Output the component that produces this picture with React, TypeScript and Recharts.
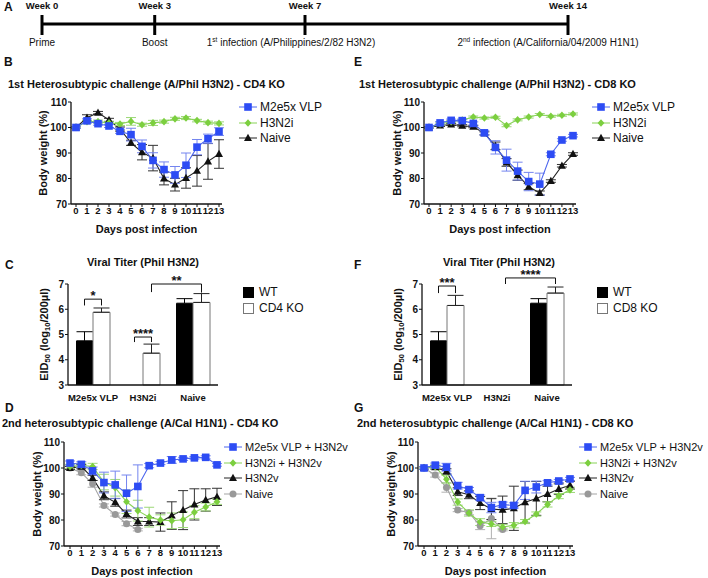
import React from 'react';
import {
  LineChart, Line, BarChart, Bar, ScatterChart, Scatter,
  XAxis, YAxis, ErrorBar, LabelList,
} from 'recharts';

const FONT = '"Liberation Sans", Arial, Helvetica, sans-serif';

// ---- panel A: timeline ----
const timelineWeeks = [0, 3, 7, 14];
const timelineEvents = ['Prime', 'Boost', '1st infection (A/Philippines/2/82 H3N2)', '2nd infection (A/California/04/2009 H1N1)'];

// ---- body weight panels ----
const days = [0, 1, 2, 3, 4, 5, 6, 7, 8, 9, 10, 11, 12, 13];
const weightTicks = [70, 80, 90, 100, 110];

// B: 1st challenge, CD4 KO
const bVlp = [100, 102.6, 101.5, 100.6, 98.5, 97.2, 92.6, 87.1, 83.5, 81.4, 85.2, 92.3, 95.6, 98.4];
const bVlpErr = [0.4, 0.8, 0.6, 0.6, 0.8, 2.5, 2.5, 3, 3, 3.3, 4.8, 3, 1.8, 1.5];
const bH3n2i = [100, 102.3, 102.3, 101.8, 101.4, 102.4, 101.1, 101.8, 102.3, 103.4, 103.7, 102.7, 101.9, 101.6];
const bH3n2iErr = [0.3, 0.5, 0.6, 0.5, 0.6, 1.5, 0.6, 1, 0.6, 0.6, 0.6, 0.5, 0.6, 0.6];
const bNaive = [100, 103.8, 105.8, 103, 99.4, 94, 90.3, 88, 80, 77.6, 80.2, 83, 86.7, 89.6];
const bNaiveErr = [0.3, 1.2, 0.5, 0.6, 0.8, 1, 3, 5, 2.5, 2.5, 4, 6, 7, 5.6];

// E: 1st challenge, CD8 KO
const eVlp = [100, 101.8, 102.8, 102.7, 101.6, 97.9, 92.2, 87.2, 82.9, 78.8, 77.8, 89.5, 95.1, 96.8];
const eVlpErr = [0.3, 0.5, 0.5, 0.5, 0.6, 0.8, 2.6, 4.3, 3.5, 3.6, 4.3, 0.6, 0.5, 0.5];
const eH3n2i = [100, 101.4, 102.3, 102.9, 104.1, 103.7, 104, 100.8, 103, 104.1, 105.1, 104.4, 104.8, 105.3];
const eH3n2iErr = [0.3, 0.4, 0.4, 0.4, 0.4, 0.4, 0.4, 0.5, 0.4, 0.4, 0.4, 0.4, 0.4, 0.4];
const eNaive = [100, 100.8, 101.2, 100.7, 100.3, 97.7, 92.8, 86.3, 81.3, 76.8, 74.3, 79, 85, 89.6];
const eNaiveErr = [0.3, 0.4, 0.4, 0.4, 0.4, 0.6, 1.5, 1.5, 2, 1.2, 0.8, 0.5, 0.5, 0.5];

// D: 2nd challenge, CD4 KO
const dVlp = [101.9, 101.4, 98.9, 94.4, 93.5, 90.3, 92.9, 100.9, 101.9, 103.1, 103.5, 103.9, 104.1, 101.2];
const dVlpErr = [0.8, 1, 1.5, 4, 5.3, 7, 8.3, 0.8, 0.6, 1.3, 0.6, 0.5, 0.6, 0.5];
const dH3n2i = [100.6, 101, 100.6, 94.6, 92.4, 87, 83.6, 81.1, 80, 79.7, 80.1, 83, 85, 87];
const dH3n2iErr = [0.8, 0.8, 1.2, 3, 3.2, 4.5, 4, 3.8, 2, 3, 3, 2.5, 1.5, 1];
const dH3n2v = [100, 100.5, 96.2, 89.3, 86.8, 82.3, 79.4, 79.4, 79.2, 81.7, 83.8, 86, 87.7, 88.9];
const dH3n2vErr = [0.6, 0.8, 1, 1.5, 1.5, 1.5, 1.5, 1.5, 3.5, 5.3, 7.5, 6, 4.3, 3.3];
const dNaive = [100, 98.2, 93.9, 85.6, 82.1, 78.6, 76.3];
const dNaiveErr = [0.6, 0.8, 1.3, 0.6, 0.6, 0.8, 0.5];

// G: 2nd challenge, CD8 KO
const gVlp = [100, 101.1, 100.3, 93.2, 91.7, 88.6, 84.8, 85.9, 85.6, 91.4, 92.7, 94.3, 95, 95.8];
const gVlpErr = [0.5, 0.8, 1.5, 1.3, 0.8, 1, 2, 1, 1, 3.5, 2.3, 0.8, 0.6, 0.6];
const gH3n2i = [100, 100.5, 95.7, 86.9, 82.7, 79.2, 78.5, 77.3, 78, 79.4, 82.3, 86, 89.2, 91.6];
const gH3n2iErr = [0.4, 0.6, 1.5, 1.2, 1.2, 1.3, 1, 1, 1, 0.8, 0.8, 1, 1, 1];
const gH3n2v = [100, 100.3, 98.7, 90.9, 89.7, 86.5, 84.2, 83.9, 84.5, 86.8, 88.3, 90, 91.9, 93.4];
const gH3n2vErr = [0.5, 0.7, 1, 1.5, 1.5, 2.5, 4, 5.3, 8.5, 8, 6.5, 3, 2, 1.5];
const gNaive = [100, 97.3, 92.5, 83.8, 82.8, 77.8, 80.6, 76.3];
const gNaiveErr = [0.5, 0.8, 1.8, 0.6, 0.8, 1.5, 7.8, 0.5];

// ---- viral titer panels ----
const titerGroups = ['M2e5x VLP', 'H3N2i', 'Naive'];
const titerTicks = [3, 4, 5, 6, 7];
const cWt = [4.75, null, 6.24];
const cWtErr = [0.36, null, 0.18];
const cKo = [5.88, 4.26, 6.27];
const cKoErr = [0.17, 0.36, 0.35];
const fWt = [4.75, null, 6.24];
const fWtErr = [0.36, null, 0.18];
const fKo = [6.15, null, 6.64];
const fKoErr = [0.4, null, 0.24];

// significance brackets: [group, bar] ends, bracket top and leg ends (log10 units)
const cBrackets = [
  { a: [0, 'wt'], b: [0, 'ko'], top: 6.4, legA: 6.15, legB: 6.15, label: '*' },
  { a: [1, 'wt'], b: [1, 'ko'], top: 4.9, legA: 4.7, legB: 4.7, label: '****' },
  { a: [1, 'ko'], b: [2, 'ko'], top: 7.0, legA: 6.68, legB: 6.66, label: '**' },
];
const fBrackets = [
  { a: [0, 'wt'], b: [0, 'ko'], top: 6.92, legA: 6.64, legB: 6.64, label: '***' },
  { a: [1, 'ko'], b: [2, 'ko'], top: 7.24, legA: 7.0, legB: 7.0, label: '****' },
];

const BLUE = { color: '#2d4cf4', line: '#4d66ee', err: '#7485ef' };
const GREEN = { color: '#7ccf3f', line: '#88d356', err: '#9cd877' };
const BLACK = { color: '#111111', line: '#222222', err: '#333333' };
const GREY = { color: '#999999', line: '#a3a3a3', err: '#b0b0b0' };

const firstSeries = [
  { key: 'vlp', name: 'M2e5x VLP', shape: 'square', ...BLUE },
  { key: 'h3n2i', name: 'H3N2i', shape: 'diamond', ...GREEN },
  { key: 'naive', name: 'Naive', shape: 'triangle', ...BLACK },
];
const secondSeries = [
  { key: 'vlp', name: 'M2e5x VLP + H3N2v', shape: 'square', ...BLUE },
  { key: 'h3n2i', name: 'H3N2i + H3N2v', shape: 'diamond', ...GREEN },
  { key: 'h3n2v', name: 'H3N2v', shape: 'triangle', ...BLACK },
  { key: 'naive', name: 'Naive', shape: 'circle', ...GREY },
];

function weightRows(cols: Record<string, (number | null)[]>) {
  return days.map((d, i) => {
    const row: any = { day: d };
    for (const k in cols) row[k] = cols[k][i] ?? null;
    return row;
  });
}

const bRows = weightRows({ vlp: bVlp, vlpErr: bVlpErr, h3n2i: bH3n2i, h3n2iErr: bH3n2iErr, naive: bNaive, naiveErr: bNaiveErr });
const eRows = weightRows({ vlp: eVlp, vlpErr: eVlpErr, h3n2i: eH3n2i, h3n2iErr: eH3n2iErr, naive: eNaive, naiveErr: eNaiveErr });
const dRows = weightRows({ vlp: dVlp, vlpErr: dVlpErr, h3n2i: dH3n2i, h3n2iErr: dH3n2iErr, h3n2v: dH3n2v, h3n2vErr: dH3n2vErr, naive: dNaive, naiveErr: dNaiveErr });
const gRows = weightRows({ vlp: gVlp, vlpErr: gVlpErr, h3n2i: gH3n2i, h3n2iErr: gH3n2iErr, h3n2v: gH3n2v, h3n2vErr: gH3n2vErr, naive: gNaive, naiveErr: gNaiveErr });

function Marker({ shape, cx, cy, color }: any) {
  if (shape === 'square') return <rect x={cx - 3.8} y={cy - 3.8} width={7.6} height={7.6} fill={color} />;
  if (shape === 'diamond') return <polygon points={`${cx},${cy - 3.8} ${cx + 3.4},${cy} ${cx},${cy + 3.8} ${cx - 3.4},${cy}`} fill={color} />;
  if (shape === 'triangle') return <polygon points={`${cx},${cy - 4.2} ${cx + 4},${cy + 3} ${cx - 4},${cy + 3}`} fill={color} />;
  return <circle cx={cx} cy={cy} r={3.5} fill={color} />;
}

const axisText = { fontSize: 9.5, fontWeight: 700, fill: '#111' };
const titleText = { fontSize: 11, fontWeight: 700, fill: '#111' };

function WeightPanel({ left, top, width, height, margin, padding, rows, series, yLabelOffset }: any) {
  const drawOrder = series.slice().reverse();
  return (
    <div style={{ position: 'absolute', left, top }}>
      <LineChart width={width} height={height} data={rows} margin={margin}>
        <XAxis
          dataKey="day"
          interval={0}
          padding={padding}
          height={30}
          tickSize={3}
          tickMargin={0}
          tick={axisText}
          axisLine={{ stroke: '#111', strokeWidth: 1.3 }}
          tickLine={{ stroke: '#111' }}
          label={{ value: 'Days post infection', position: 'insideBottom', offset: 1, style: titleText }}
        />
        <YAxis
          domain={[70, 110]}
          ticks={weightTicks}
          width={40}
          tickSize={3}
          tickMargin={1}
          tick={{ ...axisText, fontSize: 10 }}
          axisLine={{ stroke: '#111', strokeWidth: 1.3 }}
          tickLine={{ stroke: '#111' }}
          label={{ value: 'Body weight (%)', angle: -90, position: 'insideLeft', offset: yLabelOffset, style: { ...titleText, textAnchor: 'middle' } }}
        />
        {drawOrder.map((s: any) => (
          <Line
            key={s.key}
            dataKey={s.key}
            type="linear"
            stroke={s.line}
            strokeWidth={1.1}
            isAnimationActive={false}
            dot={(p: any) =>
              p.cx == null || p.cy == null || p.value == null
                ? <g key={`${s.key}-${p.index}`} />
                : <Marker key={`${s.key}-${p.index}`} shape={s.shape} cx={p.cx} cy={p.cy} color={s.color} />
            }
            activeDot={false}
          >
            <ErrorBar dataKey={`${s.key}Err`} width={5} stroke={s.err} strokeWidth={1} direction="y" isAnimationActive={false} />
          </Line>
        ))}
      </LineChart>
    </div>
  );
}

function LineLegend({ left, top, series, gap, size }: any) {
  return (
    <div style={{ position: 'absolute', left, top }}>
      {series.map((s: any, i: number) => (
        <div key={s.key} style={{ position: 'absolute', left: 0, top: i * gap, height: 14, display: 'flex', alignItems: 'center', whiteSpace: 'nowrap' }}>
          <svg width={18} height={10} style={{ display: 'block' }}>
            <line x1={0} y1={5} x2={18} y2={5} stroke={s.line} strokeWidth={1} />
            <Marker shape={s.shape} cx={9} cy={5} color={s.color} />
          </svg>
          <span style={{ marginLeft: 3, fontSize: size, color: '#111' }}>{s.name}</span>
        </div>
      ))}
    </div>
  );
}

const BAR = 17;

function EidLabel({ viewBox, offset }: any) {
  const cx = viewBox.x + offset;
  const cy = viewBox.y + viewBox.height / 2;
  return (
    <text x={cx} y={cy} transform={`rotate(-90, ${cx}, ${cy})`} textAnchor="middle" dominantBaseline="central" fontSize={11} fontWeight={700} fill="#111">
      EID<tspan fontSize={7.5} dy={3}>50</tspan>
      <tspan dy={-3}> (log</tspan>
      <tspan fontSize={7.5} dy={3}>10</tspan>
      <tspan dy={-3}>/200µl)</tspan>
    </text>
  );
}

// draws the significance brackets that end on a KO bar, using that bar's own geometry
function Brackets(props: any) {
  const { brackets, bw, plotLeft, value } = props;
  const vb = props.viewBox && props.viewBox.width != null ? props.viewBox : props;
  if (value == null || !vb || !vb.height || value <= 3) return null;
  const ppu = vb.height / (value - 3);
  const base = vb.y + vb.height;
  const yPix = (v: number) => base - (v - 3) * ppu;
  const gi = Math.floor((vb.x - plotLeft) / bw);
  const koCenter = vb.x + vb.width / 2;
  const xOf = ([g, which]: any) => koCenter + (g - gi) * bw - (which === 'wt' ? vb.width : 0);
  const mine = brackets.filter((b: any) => b.b[0] === gi);
  return (
    <g>
      {mine.map((b: any, k: number) => {
        const xa = xOf(b.a);
        const xb = xOf(b.b);
        const yt = yPix(b.top);
        return (
          <g key={k}>
            <path d={`M${xa},${yPix(b.legA)}V${yt}H${xb}V${yPix(b.legB)}`} fill="none" stroke="#111" strokeWidth={1} />
            <text x={(xa + xb) / 2} y={yt + 1} textAnchor="middle" fontSize={13} fontWeight={700} fill="#111">{b.label}</text>
          </g>
        );
      })}
    </g>
  );
}

function TiterPanel({ left, top, wt, wtErr, ko, koErr, brackets }: any) {
  const width = 354;
  const height = 170;
  const margin = { top: 34, right: 136, left: 28, bottom: 15 };
  const yw = 40;
  const plotLeft = margin.left + yw;
  const bw = (width - margin.right - plotLeft) / titerGroups.length;
  const rows = titerGroups.map((g, i) => ({
    group: g,
    wt: wt[i],
    wtErr: wtErr[i] == null ? null : [0, wtErr[i]],
    ko: ko[i],
    koErr: koErr[i] == null ? null : [0, koErr[i]],
  }));
  return (
    <div style={{ position: 'absolute', left, top }}>
      <BarChart width={width} height={height} data={rows} margin={margin} barGap={0}>
        <XAxis
          dataKey="group"
          height={20}
          tickLine={false}
          tickMargin={3}
          tick={axisText}
          axisLine={{ stroke: '#111', strokeWidth: 1.3 }}
          interval={0}
        />
        <YAxis
          domain={[3, 7]}
          ticks={titerTicks}
          width={yw}
          tickSize={3}
          tickMargin={1}
          tick={{ ...axisText, fontSize: 10 }}
          axisLine={{ stroke: '#111', strokeWidth: 1.3 }}
          tickLine={{ stroke: '#111' }}
          label={(p: any) => <EidLabel {...p} offset={16} />}
        />
        <Bar dataKey="wt" fill="#000" barSize={BAR} isAnimationActive={false}>
          <ErrorBar dataKey="wtErr" width={8} stroke="#000" strokeWidth={1} direction="y" isAnimationActive={false} />
        </Bar>
        <Bar dataKey="ko" fill="#fff" stroke="#777" strokeWidth={1} barSize={BAR} isAnimationActive={false}>
          <ErrorBar dataKey="koErr" width={8} stroke="#222" strokeWidth={1} direction="y" isAnimationActive={false} />
          <LabelList dataKey="ko" content={(p: any) => <Brackets {...p} brackets={brackets} bw={bw} plotLeft={plotLeft} />} />
        </Bar>
      </BarChart>
    </div>
  );
}

function BarLegend({ left, top, koName }: any) {
  const items = [
    { name: 'WT', fill: '#000', stroke: '#000' },
    { name: koName, fill: '#fff', stroke: '#777' },
  ];
  return (
    <div style={{ position: 'absolute', left, top }}>
      {items.map((it, i) => (
        <div key={it.name} style={{ position: 'absolute', left: 0, top: i * 16, height: 12, display: 'flex', alignItems: 'center', whiteSpace: 'nowrap' }}>
          <div style={{ width: 9, height: 9, background: it.fill, border: `1px solid ${it.stroke}` }} />
          <span style={{ marginLeft: 5, fontSize: 12, color: '#111' }}>{it.name}</span>
        </div>
      ))}
    </div>
  );
}

const eventShift = [0, 0, -14, -20];

function TimelineTick({ x, y, payload }: any) {
  const i = timelineWeeks.indexOf(payload.value);
  const ev = timelineEvents[i] || '';
  const m = ev.match(/^(\d)(st|nd|rd|th) (.*)$/);
  return (
    <g>
      <line x1={x} y1={y - 9} x2={x} y2={y + 11} stroke="#000" strokeWidth={3} />
      <text x={x} y={y - 15} textAnchor="middle" fontSize={9.5} fontWeight={700} fill="#111">{`Week ${payload.value}`}</text>
      <text x={x + eventShift[i]} y={y + 22} textAnchor="middle" fontSize={10} fill="#111">
        {m ? (
          <>
            {m[1]}
            <tspan fontSize={6.5} dy={-4}>{m[2]}</tspan>
            <tspan dy={4}>{` ${m[3]}`}</tspan>
          </>
        ) : ev}
      </text>
    </g>
  );
}

function Timeline() {
  const rows = timelineWeeks.map((w) => ({ week: w, y: 0 }));
  return (
    <div style={{ position: 'absolute', left: 0, top: 0 }}>
      <ScatterChart width={708} height={60} margin={{ top: 0, right: 140, left: 42, bottom: 0 }}>
        <XAxis
          dataKey="week"
          type="number"
          domain={[0, 14]}
          ticks={timelineWeeks}
          interval={0}
          height={36}
          tickSize={0}
          tickMargin={0}
          tickLine={false}
          axisLine={{ stroke: '#000', strokeWidth: 3 }}
          tick={<TimelineTick />}
        />
        <YAxis dataKey="y" type="number" domain={[0, 1]} hide />
        <Scatter data={rows} shape={() => <g />} isAnimationActive={false} />
      </ScatterChart>
    </div>
  );
}

function Txt({ left, top, size = 11, children, center }: any) {
  return (
    <div
      style={{
        position: 'absolute',
        left,
        top,
        fontSize: size,
        fontWeight: 700,
        lineHeight: `${size + 1}px`,
        whiteSpace: 'nowrap',
        color: '#111',
        transform: center ? 'translateX(-50%)' : undefined,
      }}
    >
      {children}
    </div>
  );
}

export default function App() {
  return (
    <div style={{ position: 'absolute', left: 0, top: 0, width: 708, height: 578, overflow: 'hidden', background: '#fff', fontFamily: FONT }}>
      <Txt left={4} top={1} size={12}>A</Txt>
      <Timeline />

      <Txt left={4} top={56} size={12}>B</Txt>
      <Txt left={8} top={78}>1st Heterosubtypic challenge (A/Phil H3N2) - CD4 KO</Txt>
      <WeightPanel left={0} top={90} width={354} height={160} margin={{ top: 12, right: 132, left: 31, bottom: 16 }} padding={{ left: 5, right: 3 }} rows={bRows} series={firstSeries} yLabelOffset={12} />
      <LineLegend left={239} top={100} series={firstSeries} gap={15.5} size={12} />

      <Txt left={354} top={56} size={12}>E</Txt>
      <Txt left={359} top={78}>1st Heterosubtypic challenge (A/Phil H3N2) - CD8 KO</Txt>
      <WeightPanel left={353} top={90} width={354} height={160} margin={{ top: 12, right: 131, left: 31, bottom: 16 }} padding={{ left: 5, right: 3 }} rows={eRows} series={firstSeries} yLabelOffset={13} />
      <LineLegend left={592} top={100} series={firstSeries} gap={15.5} size={12} />

      <Txt left={5} top={259} size={12}>C</Txt>
      <Txt left={143} top={256} center>Viral Titer (Phil H3N2)</Txt>
      <TiterPanel left={0} top={250} wt={cWt} wtErr={cWtErr} ko={cKo} koErr={cKoErr} brackets={cBrackets} />
      <BarLegend left={243} top={286} koName="CD4 KO" />

      <Txt left={354} top={259} size={12}>F</Txt>
      <Txt left={499} top={256} center>Viral Titer (Phil H3N2)</Txt>
      <TiterPanel left={354} top={250} wt={fWt} wtErr={fWtErr} ko={fKo} koErr={fKoErr} brackets={fBrackets} />
      <BarLegend left={597} top={286} koName="CD8 KO" />

      <Txt left={5} top={402} size={12}>D</Txt>
      <Txt left={2} top={417}>2nd heterosubtypic challenge (A/Cal H1N1) - CD4 KO</Txt>
      <WeightPanel left={0} top={415} width={354} height={163} margin={{ top: 27, right: 134, left: 24, bottom: 2 }} padding={{ left: 6, right: 3 }} rows={dRows} series={secondSeries} yLabelOffset={13} />
      <LineLegend left={224} top={440} series={secondSeries} gap={15.7} size={11} />

      <Txt left={354} top={402} size={12}>G</Txt>
      <Txt left={357} top={417}>2nd heterosubtypic challenge (A/Cal H1N1) - CD8 KO</Txt>
      <WeightPanel left={354} top={415} width={354} height={163} margin={{ top: 27, right: 135, left: 24, bottom: 2 }} padding={{ left: 6, right: 3 }} rows={gRows} series={secondSeries} yLabelOffset={13} />
      <LineLegend left={579} top={440} series={secondSeries} gap={15.7} size={11} />
    </div>
  );
}
